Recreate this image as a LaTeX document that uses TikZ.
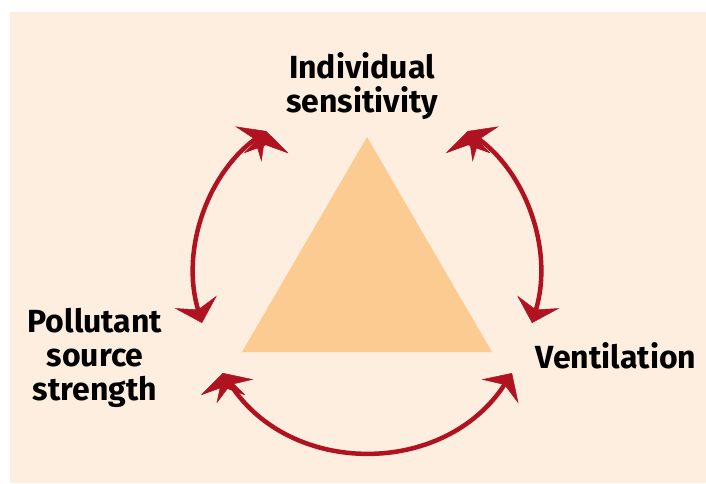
\documentclass[tikz,border=0pt]{standalone}
\usepackage{fontspec}
\setsansfont{Fira Sans}
\usepackage{tikz}
\usetikzlibrary{arrows.meta}

\definecolor{bgpeach}{RGB}{253,238,223}
\definecolor{tripeach}{RGB}{252,203,146}
\definecolor{looprd}{RGB}{176,18,32}

\begin{document}
\begin{tikzpicture}[x=1pt,y=1pt,
    lbl/.style={font=\fontsize{32}{34}\selectfont\sffamily\bfseries, align=center, inner sep=0pt},
    twoway/.style={draw=looprd, line width=4.5pt,
      {Stealth[length=22pt,width=44pt,inset=8pt,line width=0.5pt,color=looprd,fill=looprd]}-{Stealth[length=22pt,width=44pt,inset=8pt,line width=0.5pt,color=looprd,fill=looprd]}}]
   \useasboundingbox (0,0) rectangle (706,-483);
   \fill[bgpeach] (10,-12) rectangle (706,-483);
   \fill[tripeach] (367,-137) -- (242,-352) -- (492,-352) -- cycle;

   \draw (362,-86) node[lbl] (sens) {Individual\\sensitivity};
   \draw (95,-358) node[lbl] (source) {Pollutant\\source\\strength};
   \draw (616,-356) node[lbl] (vent) {Ventilation};

   \coordinate (sens-w) at (266,-131);
   \coordinate (sens-e) at (468,-131);
   \coordinate (source-n) at (202,-323);
   \coordinate (source-e) at (223,-373);
   \coordinate (vent-n) at (532,-323);
   \coordinate (vent-w) at (512,-373);

   \path[twoway] (sens-w) edge[bend right=35, looseness=0.94] (source-n);
   \path[twoway] (sens-e) edge[bend left=35, looseness=0.94] (vent-n);
   \path[twoway] (source-e) edge[bend right=57, looseness=1.1] (vent-w);
\end{tikzpicture}
\end{document}
